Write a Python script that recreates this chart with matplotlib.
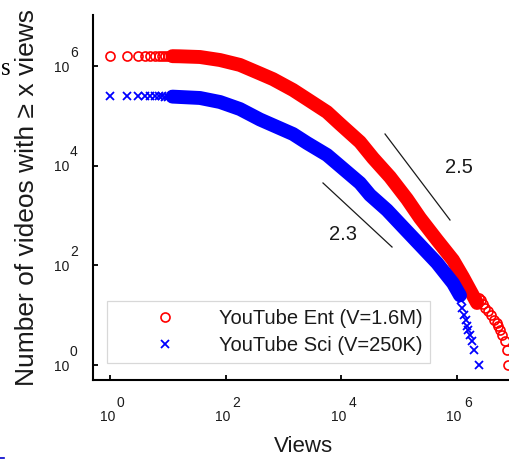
import matplotlib
matplotlib.use("Agg")
import matplotlib.pyplot as plt
from matplotlib.lines import Line2D

plt.rcParams['font.family'] = ['Liberation Sans', 'DejaVu Sans']

# ---- data ----
red_head_x = [1, 2, 3, 4, 5, 6, 7, 8, 9, 10, 12, 14, 16, 18, 20, 25, 30]
red_head_y = [1.60e6, 1.60e6, 1.60e6, 1.59e6, 1.59e6, 1.59e6, 1.59e6, 1.58e6, 1.58e6,
              1.58e6, 1.58e6, 1.58e6, 1.57e6, 1.57e6, 1.57e6, 1.56e6, 1.55e6]
red_band_x = [12, 16, 36, 80, 177, 394, 661, 1466, 2560, 5680, 9530, 21150, 35500,
              69900, 137500, 230700, 454000, 859000, 1.28e6, 1.69e6, 2.24e6]
red_band_y = [1.59e6, 1.58e6, 1.53e6, 1.33e6, 1.06e6, 7.13e5, 5.5e5, 3.33e5, 2.19e5,
              1.20e5, 6.9e4, 3.0e4, 1.43e4, 5.96e3, 2.15e3, 895, 324, 128, 58, 32, 17.6]
red_tail_x = [2.45e6, 2.6e6, 2.84e6, 3.08e6, 3.47e6, 3.91e6, 4.40e6, 4.96e6, 5.16e6,
              5.59e6, 6.05e6, 6.82e6, 7.39e6, 7.69e6]
red_tail_y = [22, 20, 17, 14, 12, 10, 8, 7, 6, 5, 4, 3, 2, 1]

blue_head_x = [1, 2, 3, 4, 5, 6, 7, 8, 9, 10, 12, 14, 16, 18, 20, 25, 30]
blue_head_y = [2.50e5, 2.50e5, 2.49e5, 2.49e5, 2.48e5, 2.48e5, 2.47e5, 2.47e5, 2.46e5,
               2.46e5, 2.45e5, 2.44e5, 2.43e5, 2.42e5, 2.41e5, 2.39e5, 2.36e5]
blue_band_x = [12, 36, 80, 177, 394, 1466, 2560, 5680, 9530, 21150, 31500, 62000,
               117000, 230700, 454000, 859000, 1.135e6]
blue_band_y = [2.45e5, 2.30e5, 1.91e5, 1.38e5, 8.5e4, 4.35e4, 2.87e4, 1.65e4, 9.9e3,
               4.5e3, 2.59e3, 1.29e3, 590, 257, 112, 44, 25]
blue_tail_x = [1.15e6, 1.18e6, 1.23e6, 1.33e6, 1.44e6, 1.50e6, 1.56e6, 1.69e6, 1.83e6,
               1.98e6, 2.42e6]
blue_tail_y = [24, 20, 14, 10, 8, 6, 5, 4, 3, 2, 1]

labels = ["YouTube Ent (V=1.6M)", "YouTube Sci (V=250K)"]

slope_25_x = [5.73e4, 7.62e5]
slope_25_y = [4.35e4, 816]
slope_23_x = [4840, 7.57e4]
slope_23_y = [4520, 234]
slope_texts = ["2.5", "2.3"]
slope_text_pos = [(1.09e6, 9460), (1.07e4, 408)]

xtick_exp = [0, 2, 4, 6]
ytick_exp = [0, 2, 4, 6]

RED = '#ff0000'
BLUE = '#0000ff'
TXT = '#1a1a1a'

fig = plt.figure(figsize=(5.1, 4.59), dpi=100)
ax = fig.add_axes([93/510, (459-380)/459, (513-93)/510, (380-15)/459])
ax.set_xscale('log')
ax.set_yscale('log')
ax.set_xlim(10**-0.294, 10**6.972)
ax.set_ylim(10**-0.301, 10**7.028)

# bands (dense markers)
ax.plot(red_band_x, red_band_y, color=RED, lw=10, solid_capstyle='round',
        solid_joinstyle='round', zorder=2)
hr, = ax.plot(red_head_x + red_tail_x, red_head_y + red_tail_y, ls='none', marker='o',
              ms=6.5, mfc='none', mec=RED, mew=1.2, zorder=2, label=labels[0])
ax.plot(blue_band_x, blue_band_y, color=BLUE, lw=10, solid_capstyle='round',
        solid_joinstyle='round', zorder=3)
hb, = ax.plot(blue_head_x + blue_tail_x, blue_head_y + blue_tail_y, ls='none', marker='x',
              ms=6, mec=BLUE, mew=1.3, zorder=3, label=labels[1])

# slope guide lines
ax.plot(slope_25_x, slope_25_y, color=TXT, lw=0.9, zorder=4)
ax.plot(slope_23_x, slope_23_y, color=TXT, lw=0.9, zorder=4)
for t, (tx, ty) in zip(slope_texts, slope_text_pos):
    ax.text(tx, ty, t, fontsize=14.5, color=TXT, ha='center', va='center')

# spines & ticks
for s in ['top', 'right']:
    ax.spines[s].set_visible(False)
for s in ['left', 'bottom']:
    ax.spines[s].set_linewidth(1.5)
    ax.spines[s].set_color('black')
ax.set_xticks([10.0**e for e in xtick_exp])
ax.set_yticks([10.0**e for e in ytick_exp])
ax.minorticks_off()
ax.tick_params(direction='in', length=3.5, width=1.3, labelbottom=False, labelleft=False)

for e in xtick_exp:
    ax.annotate("10", xy=(10.0**e, 0), xycoords=('data', 'axes fraction'),
                xytext=(5, -41), textcoords='offset pixels', ha='right', va='baseline',
                fontsize=10, color=TXT, annotation_clip=False)
    ax.annotate(str(e), xy=(10.0**e, 0), xycoords=('data', 'axes fraction'),
                xytext=(7, -27), textcoords='offset pixels', ha='left', va='baseline',
                fontsize=10, color=TXT, annotation_clip=False)
for e in ytick_exp:
    ax.annotate("10", xy=(0, 10.0**e), xycoords=('axes fraction', 'data'),
                xytext=(-24, -5.5), textcoords='offset pixels', ha='right', va='baseline',
                fontsize=10, color=TXT, annotation_clip=False)
    ax.annotate(str(e), xy=(0, 10.0**e), xycoords=('axes fraction', 'data'),
                xytext=(-23, 9.5), textcoords='offset pixels', ha='left', va='baseline',
                fontsize=10, color=TXT, annotation_clip=False)

fig.text(27/510, (459-197)/459, "Number of videos with \u2265 x views", rotation=90,
         ha='center', va='center', fontsize=19, color=TXT)
fig.text(303/510, (459-447)/459, "Views", ha='center', va='center', fontsize=16, color=TXT)

leg = ax.legend(handles=[hr, hb], loc='lower left',
                bbox_to_anchor=(107/510, 96/459), bbox_transform=fig.transFigure,
                borderaxespad=0, fontsize=14.5, handlelength=5.0, handletextpad=0.15,
                labelspacing=0.38, borderpad=0.4, frameon=True, fancybox=False,
                framealpha=1, edgecolor='#d8d8d8')
leg.get_frame().set_linewidth(0.9)
for t in leg.get_texts():
    t.set_color(TXT)

# fragments of neighbouring page content
fig.text(0.5/510, (459-75)/459, "s", family=['Liberation Serif', 'DejaVu Serif'],
         fontsize=18, ha='left', va='baseline', color='black')
fig.add_artist(Line2D([0, 4/510], [1.5/459, 1.5/459], color='#0000cc', lw=1.2,
                      transform=fig.transFigure))

fig.savefig("out.png", dpi=100)
